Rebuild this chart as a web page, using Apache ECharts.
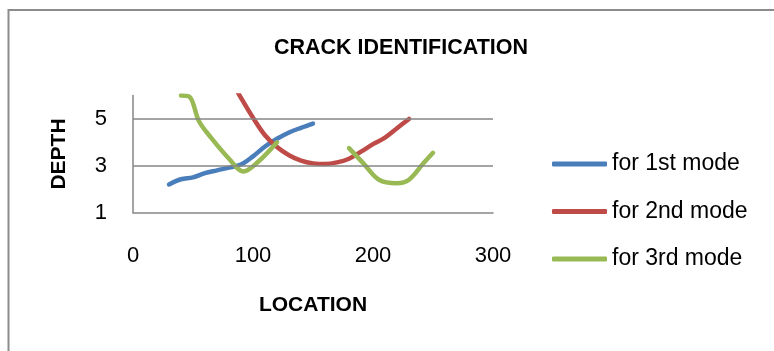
<!DOCTYPE html>
<html>
<head>
<meta charset="utf-8">
<script src="https://cdn.jsdelivr.net/npm/echarts@6/dist/echarts.min.js"></script>
<style>
  html, body { margin: 0; padding: 0; background: #ffffff; }
  #chart { width: 774px; height: 351px; }
</style>
</head>
<body>
<div id="chart"></div>
<script>
// Crack location along the beam versus crack depth, one curve per vibration mode
const seriesNames = ['for 1st mode', 'for 2nd mode', 'for 3rd mode'];

const mode1Location = [30, 40, 50, 60, 70, 80, 90, 100, 110, 120, 130, 140, 150];
const mode1Depth    = [2.2, 2.42, 2.5, 2.68, 2.8, 2.92, 3.05, 3.4, 3.82, 4.15, 4.42, 4.62, 4.8];

const mode2Location = [80, 90, 100, 110, 120, 130, 140, 150, 160, 170, 180, 190, 200, 210, 220, 230];
const mode2Depth    = [6.8, 5.9, 5.05, 4.3, 3.8, 3.45, 3.22, 3.1, 3.07, 3.14, 3.3, 3.6, 3.92, 4.2, 4.6, 5.0];

// two separate branches; null breaks the curve between them
const mode3Location = [40, 47, 55, 65, 80, 92, 105, 120, 150, 180, 192, 205, 220, 230, 242, 250];
const mode3Depth    = [6.0, 5.95, 4.9, 4.2, 3.3, 2.75, 3.2, 4.0, null, 3.75, 3.1, 2.4, 2.25, 2.4, 3.1, 3.55];

const xTicks = [0, 100, 200, 300];
const yTicks = [1, 3, 5];
const yTop = 6;

const colors = ['#4A7EBB', '#BE4B48', '#98B954'];
const FONT = 'Liberation Sans';

function pairs(xs, ys) {
  return xs.map((x, i) => [x, ys[i]]);
}

const chart = echarts.init(document.getElementById('chart'), null, { renderer: 'canvas' });

const lineSeries = [
  pairs(mode1Location, mode1Depth),
  pairs(mode2Location, mode2Depth),
  pairs(mode3Location, mode3Depth)
].map((data, i) => ({
  name: seriesNames[i],
  type: 'line',
  data: data,
  smooth: 0.35,
  showSymbol: false,
  symbol: 'none',
  connectNulls: false,
  clip: true,
  z: 3,
  lineStyle: { color: colors[i], width: 4.5, cap: 'round', join: 'round' },
  itemStyle: { color: colors[i] }
}));

// horizontal gridlines at the labelled depths
const gridSeries = {
  name: 'grid',
  type: 'line',
  data: [],
  z: 1,
  silent: true,
  markLine: {
    silent: true,
    symbol: 'none',
    label: { show: false },
    animation: false,
    lineStyle: { color: '#868686', width: 1.5, type: 'solid' },
    data: yTicks.slice(1).map(v => ({ yAxis: v }))
  }
};

chart.setOption({
  animation: false,
  backgroundColor: '#ffffff',
  textStyle: { fontFamily: FONT },
  title: {
    text: 'CRACK IDENTIFICATION',
    left: 396,
    textAlign: 'center',
    top: 32,
    textStyle: { fontFamily: FONT, fontSize: 21.5, fontWeight: 'bold', color: '#000000' }
  },
  graphic: [{
    type: 'rect',
    shape: { x: 8.5, y: 10, width: 800, height: 400 },
    style: { fill: 'none', stroke: '#8c8c8c', lineWidth: 2 },
    silent: true
  }],
  legend: {
    orient: 'vertical',
    left: 547,
    top: 147,
    itemWidth: 55,
    itemHeight: 5,
    itemGap: 23.5,
    icon: 'roundRect',
    data: seriesNames,
    textStyle: { fontFamily: FONT, fontSize: 23, color: '#000000', lineHeight: 24 }
  },
  grid: { left: 133, right: 281, top: 95.5, bottom: 138.5, containLabel: false },
  xAxis: {
    type: 'value',
    min: xTicks[0],
    max: xTicks[xTicks.length - 1],
    interval: xTicks[1] - xTicks[0],
    name: 'LOCATION',
    nameLocation: 'middle',
    nameGap: 82,
    nameTextStyle: { fontFamily: FONT, fontSize: 21, fontWeight: 'bold', color: '#000000' },
    axisLine: { show: true, onZero: false, lineStyle: { color: '#868686', width: 1.5 } },
    axisTick: { show: false },
    splitLine: { show: false },
    axisLabel: { margin: 32, fontFamily: FONT, fontSize: 22, color: '#000000' }
  },
  yAxis: {
    type: 'value',
    min: yTicks[0],
    max: yTop,
    interval: yTicks[1] - yTicks[0],
    name: 'DEPTH',
    nameLocation: 'middle',
    nameGap: 63,
    nameRotate: 90,
    nameTextStyle: { fontFamily: FONT, fontSize: 21, fontWeight: 'bold', color: '#000000' },
    axisLine: { show: true, lineStyle: { color: '#868686', width: 1.5 } },
    axisTick: { show: false },
    splitLine: { show: false },
    axisLabel: {
      margin: 26,
      fontFamily: FONT,
      fontSize: 22,
      color: '#000000',
      formatter: v => (yTicks.indexOf(v) >= 0 ? String(v) : '')
    }
  },
  series: [gridSeries].concat(lineSeries)
});
</script>
</body>
</html>
